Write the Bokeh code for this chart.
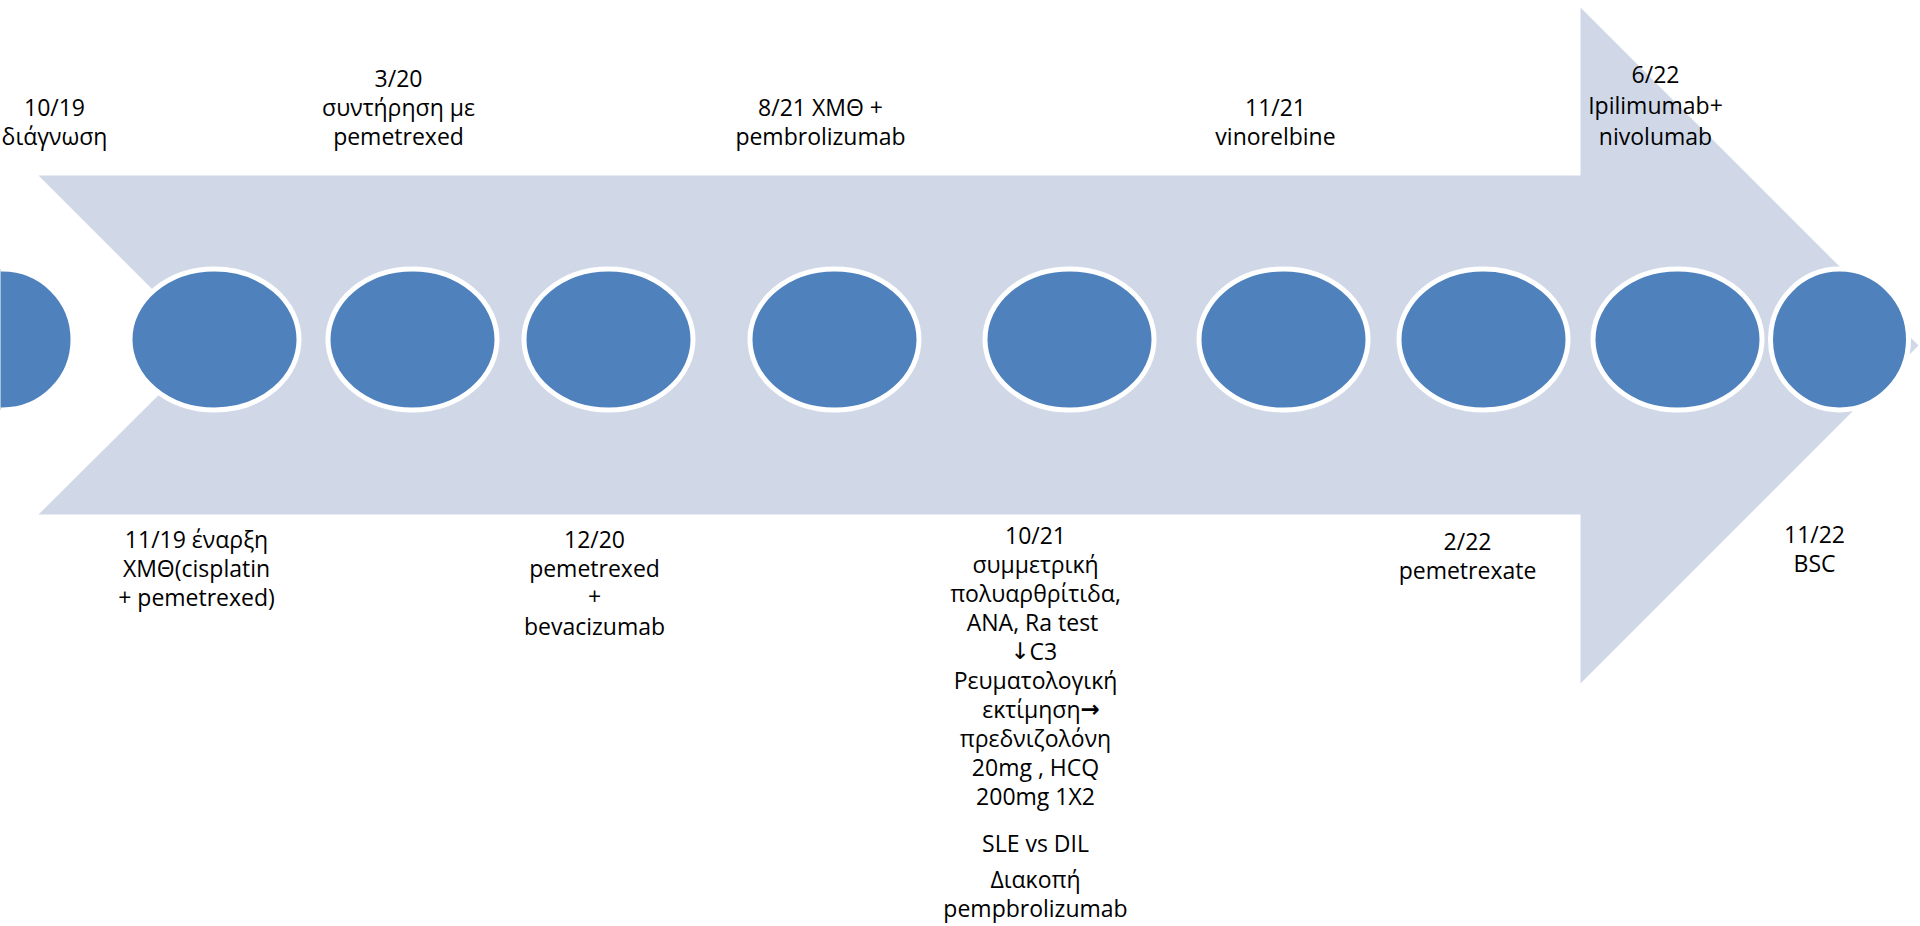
from bokeh.plotting import figure
from bokeh.models import Range1d, ColumnDataSource
from bokeh.core.properties import value
from bokeh.embed import file_html
from bokeh.resources import INLINE

# ---- data ----
top_labels = [
    "10/19\nδιάγνωση",
    "3/20\nσυντήρηση με\npemetrexed",
    "8/21 ΧΜΘ +\npembrolizumab",
    "11/21\nvinorelbine",
    "6/22\nIpilimumab+\nnivolumab",
]
bottom_labels = [
    "11/19 έναρξη\nΧΜΘ(cisplatin\n+ pemetrexed)",
    "12/20\npemetrexed\n+\nbevacizumab",
    "10/21\nσυμμετρική\nπολυαρθρίτιδα,\nANA,  Ra test\n↓C3\nΡευματολογική\nεκτίμηση→\nπρεδνιζολόνη\n20mg , HCQ\n200mg 1X2\n\nSLE vs DIL\n\nΔιακοπή\npempbrolizumab",
    "2/22\npemetrexate",
    "11/22\nBSC",
]

# ---- layout (pixel coordinates) ----
W, H = 1920, 926
top_x = [54, 398, 820, 1275, 1655]
top_last_baseline = [135, 135, 135, 135, 135]
top_spacing = [29, 29, 29, 29, 31]
bottom_x = [196, 594, 1035, 1467, 1814]
bottom_first_baseline = [538, 538, 534, 540, 533]
bottom_spacing = [29, 29, 29.1, 29, 29]
para_gaps = [17, 7]
down_arrow_offset = -6
right_arrow_offset = 45

node_x = [214, 412, 608, 834, 1069, 1283, 1483, 1677]
node_y = 339
end_x = [2, 1839]

ARROW = "#D0D8E8"
NODE = "#4F81BD"
FONT = "Open Sans"
FS = "23px"

p = figure(width=W, height=H, output_backend="svg", toolbar_location=None,
           x_range=Range1d(0, W), y_range=Range1d(H, 0),
           min_border=0, tools="")
p.axis.visible = False
p.grid.visible = False
p.outline_line_color = None
p.background_fill_color = "white"
p.border_fill_color = "white"

# big arrow
ax = [38, 1580, 1580, 1918, 1580, 1580, 38, 208]
ay = [175, 175, 7, 345, 683, 514, 514, 345]
p.patch(ax, ay, fill_color=ARROW, line_color=None)

# end circles
p.ellipse(x=end_x, y=[node_y, node_y], width=[141, 138], height=[141, 141],
          fill_color=NODE, line_color="white", line_width=5)
# nodes
p.ellipse(x=node_x, y=[node_y] * len(node_x), width=169, height=141,
          fill_color=NODE, line_color="white", line_width=5)

# labels
xs, ys, ts = [], [], []          # centred text
lx, ly, lt = [], [], []          # left-aligned pieces (Open Sans)
rx, ry, rt = [], [], []          # right-aligned pieces (Open Sans)
ax_l, ay_l, at_l = [], [], []    # arrow glyphs, right-aligned (↓)
ax_r, ay_r, at_r = [], [], []    # arrow glyphs, left-aligned (→)

for lab, x, last, sp in zip(top_labels, top_x, top_last_baseline, top_spacing):
    lines = lab.split("\n")
    n = len(lines)
    for i, t in enumerate(lines):
        xs.append(x); ys.append(last - (n - 1 - i) * sp); ts.append(t)

for lab, x, first, sp in zip(bottom_labels, bottom_x, bottom_first_baseline, bottom_spacing):
    y = first
    blank = False
    started = False
    gi = 0
    for t in lab.split("\n"):
        if t == "":
            blank = True
            continue
        if started:
            extra = 0
            if blank:
                extra = para_gaps[min(gi, len(para_gaps) - 1)]
                gi += 1
            y += sp + extra
        started = True
        blank = False
        if t.startswith("↓"):
            split_x = x + down_arrow_offset
            ax_l.append(split_x); ay_l.append(y); at_l.append("↓")
            lx.append(split_x); ly.append(y); lt.append(t[1:])
        elif t.endswith("→"):
            split_x = x + right_arrow_offset
            rx.append(split_x); ry.append(y); rt.append(t[:-1])
            ax_r.append(split_x); ay_r.append(y); at_r.append("→")
        else:
            xs.append(x); ys.append(y); ts.append(t)

common = dict(text_baseline="alphabetic", text_font_size=FS, text_color="black")
p.text(x="x", y="y", text="text", source=ColumnDataSource(dict(x=xs, y=ys, text=ts)),
       text_align="center", text_font=value(FONT), **common)
p.text(x="x", y="y", text="text", source=ColumnDataSource(dict(x=lx, y=ly, text=lt)),
       text_align="left", text_font=value(FONT), **common)
p.text(x="x", y="y", text="text", source=ColumnDataSource(dict(x=rx, y=ry, text=rt)),
       text_align="right", text_font=value(FONT), **common)
p.text(x="x", y="y", text="text", source=ColumnDataSource(dict(x=ax_l, y=ay_l, text=at_l)),
       text_align="right", text_font=value("DejaVu Sans"), **common)
p.text(x="x", y="y", text="text", source=ColumnDataSource(dict(x=ax_r, y=ay_r, text=at_r)),
       text_align="left", text_font=value("DejaVu Sans"), text_font_style="bold", **common)

open("out.html", "w").write(file_html(p, INLINE))
